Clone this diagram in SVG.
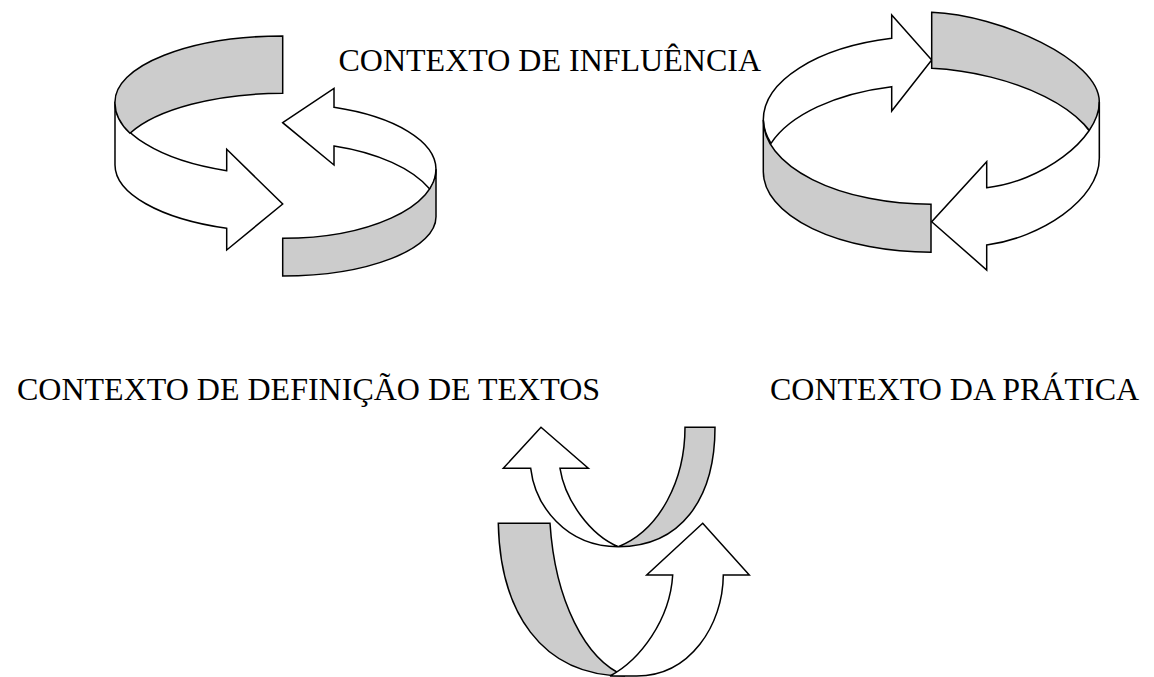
<svg xmlns="http://www.w3.org/2000/svg" width="1154" height="677" viewBox="0 0 1154 677">
<style>
.w{fill:#ffffff;stroke:#000000;stroke-width:1.5;stroke-linejoin:miter}
.g{fill:#cccccc;stroke:#000000;stroke-width:1.5;stroke-linejoin:miter}
.t{font-family:"Liberation Serif","Times New Roman",serif;font-size:32px;fill:#000000}
</style>
<rect width="1154" height="677" fill="#ffffff"/>
<g id="cycle-influencia">
<path class="w" d="M115,101.7 A167.7,73 0 0 0 226.7,170.7 L226.7,149.3 L282.7,204 L226.7,250 L226.7,228.3 A167.7,67.2 0 0 1 115,165 Z"/>
<path class="g" d="M282.7,36 A167.7,65.7 0 0 0 115,101.7 A167.7,73 0 0 0 130,133.3 A167.7,66.7 0 0 1 282.7,93.3 Z"/>
<path class="w" d="M282.7,122.7 L334,88.3 L334,107.3 A153.3,65.8 0 0 1 436,169.3 A153.3,69 0 0 1 430,189.3 A153.3,75 0 0 0 334,146 L334,165 Z"/>
<path class="g" d="M282.7,238.3 A153.3,69 0 0 0 436,169.3 L436,216.7 A153.3,59.3 0 0 1 282.7,276 Z"/>
</g>
<g id="cycle-pratica">
<path class="w" d="M931.7,60 L891.7,15 L891.7,38.3 A168,84 0 0 0 763.3,120 A168,84.3 0 0 0 771,143.3 A168,87.5 0 0 1 891.7,86.7 L891.7,111 Z"/>
<path class="g" d="M931,204.3 A168,84.3 0 0 1 763.3,120 L763.3,171.7 A168,80.6 0 0 0 931,252.3 Z"/>
<path class="g" d="M931.7,12.3 C1000,15 1099.3,60 1099.3,101.7 L1099.3,158.3 C1099.3,110 1010,72 931.7,68.3 Z"/>
<path class="w" d="M1099.3,101.7 C1099.3,140 1040,182 986.7,187.7 L986.7,161.7 L931.7,221.7 L986.7,270 L986.7,245 C1040,238 1099.3,200 1099.3,158.3 Z"/>
</g>
<g id="cycle-definicao">
<path class="g" d="M685,427.3 L715,427.3 C715,500 680,546.7 618.3,546.7 C660,530 685,480 685,427.3 Z"/>
<path class="w" d="M541,427.3 L588.3,468.3 L560,468.3 C565,500 590,535 618.3,546.7 C565,546.7 535,505 530.7,468.3 L503.3,468.3 Z"/>
<path class="g" d="M498.3,523.3 L550,523.3 C555,600 585,660 625,676 C540,676 500,610 498.3,523.3 Z"/>
<path class="w" d="M702.7,523.3 L749.3,575 L723.3,575 C723,625 690,676 636.7,676 L610,676 C640,660 670,620 672.7,575 L646.7,575 Z"/>
</g>
<g id="label-influencia"><text class="t" x="338.5" y="71">CONTEXTO DE INFLUÊNCIA</text></g>
<g id="label-definicao"><text class="t" x="17" y="400">CONTEXTO DE DEFINIÇÃO DE TEXTOS</text></g>
<g id="label-pratica"><text class="t" x="770" y="400">CONTEXTO DA PRÁTICA</text></g>
</svg>
